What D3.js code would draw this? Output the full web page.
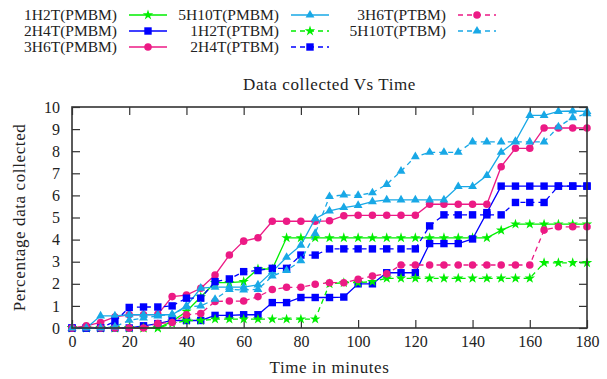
<!DOCTYPE html>
<html>
<head>
<meta charset="utf-8">
<script src="https://cdnjs.cloudflare.com/ajax/libs/d3/7.8.5/d3.min.js"></script>
<style>
  body { margin: 0; background: #fff; }
  svg { display: block; font-family: "Liberation Serif", "DejaVu Serif", serif; }
</style>
</head>
<body>
<div id="chart"></div>
<script>
// sample times (minutes)
const times = [0,5,10,15,20,25,30,35,40,45,50,55,60,65,70,75,80,85,90,95,100,105,110,115,120,125,130,135,140,145,150,155,160,165,170,175,180];

// series values, percentage data collected
const h1PMBM = [0,0,0,0,0,0,0,0.3,0.75,1.4,2.05,2.05,2.1,2.67,2.67,4.08,4.08,4.08,4.08,4.08,4.08,4.08,4.08,4.08,4.08,4.08,4.08,4.08,4.08,4.08,4.42,4.7,4.7,4.7,4.7,4.7,4.7];
const h2PMBM = [0,0,0,0,0,0.1,0.2,0.34,0.34,0.34,0.57,0.57,0.6,0.6,1.15,1.15,1.38,1.38,1.38,1.4,2.0,2.0,2.5,2.5,2.5,3.82,3.82,3.82,4.03,5.22,6.42,6.42,6.42,6.42,6.42,6.42,6.42];
const h3PMBM = [0,0.1,0.25,0.5,0.6,0.6,0.62,1.42,1.49,1.8,2.4,3.3,3.93,4.08,4.83,4.83,4.83,4.83,4.85,5.08,5.1,5.1,5.1,5.1,5.1,5.6,5.6,5.6,5.6,5.6,7.3,8.13,8.13,9.05,9.05,9.05,9.05];
const h5PMBM = [0,0,0.55,0.55,0.6,0.6,0.6,0.6,1.0,1.8,1.85,1.85,1.85,1.95,2.55,3.2,3.75,4.95,5.3,5.45,5.55,5.72,5.8,5.8,5.8,5.8,5.8,6.4,6.4,6.9,7.95,8.45,9.62,9.62,9.8,9.82,9.8];
const h1PTBM = [0,0,0,0,0,0,0,0.2,0.34,0.34,0.4,0.4,0.4,0.4,0.4,0.4,0.4,0.4,2.0,2.05,2.05,2.1,2.25,2.25,2.25,2.25,2.25,2.25,2.25,2.25,2.25,2.25,2.25,2.95,2.95,2.95,2.95];
const h2PTBM = [0,0,0,0.3,0.93,0.95,0.95,1.0,1.35,1.35,2.1,2.22,2.55,2.6,2.7,2.7,3.3,3.3,3.58,3.58,3.58,3.58,3.58,3.58,3.58,4.62,5.12,5.12,5.12,5.12,5.12,5.68,5.68,5.68,6.42,6.42,6.42];
const h3PTBM = [0,0.05,0,0,0,0,0.2,0.25,0.6,0.66,1.2,1.22,1.22,1.42,1.74,1.84,1.84,1.98,2.05,2.05,2.2,2.35,2.45,2.85,2.85,2.85,2.85,2.85,2.85,2.85,2.85,2.85,2.85,4.43,4.58,4.58,4.58];
const h5PTBM = [0,0,0,0.05,0.35,0.45,0.55,0.62,0.95,1.0,1.3,1.75,1.72,1.75,2.35,2.6,3.05,4.28,5.95,6.02,6.0,6.12,6.5,7.1,7.75,7.95,7.95,7.95,8.42,8.42,8.42,8.42,8.42,8.42,9.1,9.52,9.7];

const xTicks = [0,20,40,60,80,100,120,140,160,180];
const yTicks = [0,1,2,3,4,5,6,7,8,9,10];

const series = [
  { name: '1H2T(PMBM)', values: h1PMBM, color: '#00ee00', dashed: false, shape: d3.symbolStar, size: 34 },
  { name: '2H4T(PMBM)', values: h2PMBM, color: '#0000ff', dashed: false, shape: d3.symbolSquare, size: 55 },
  { name: '3H6T(PMBM)', values: h3PMBM, color: '#ec1a85', dashed: false, shape: d3.symbolCircle, size: 45 },
  { name: '5H10T(PMBM)', values: h5PMBM, color: '#18a8e6', dashed: false, shape: d3.symbolTriangle, size: 34 },
  { name: '1H2T(PTBM)', values: h1PTBM, color: '#00ee00', dashed: true, shape: d3.symbolStar, size: 34 },
  { name: '2H4T(PTBM)', values: h2PTBM, color: '#0000ff', dashed: true, shape: d3.symbolSquare, size: 55 },
  { name: '3H6T(PTBM)', values: h3PTBM, color: '#ec1a85', dashed: true, shape: d3.symbolCircle, size: 45 },
  { name: '5H10T(PTBM)', values: h5PTBM, color: '#18a8e6', dashed: true, shape: d3.symbolTriangle, size: 34 }
];

const W = 607, H = 379;
const margin = { left: 72, right: 20, top: 107, bottom: 51 };

const svg = d3.select('#chart').append('svg')
  .attr('width', W)
  .attr('height', H);

const x = d3.scaleLinear().domain([0, 180]).range([margin.left, W - margin.right]);
const y = d3.scaleLinear().domain([0, 10]).range([H - margin.bottom, margin.top]);

const axisColor = '#333';

// ticks inward on all four sides (gnuplot style)
const gx = svg.append('g')
  .attr('transform', `translate(0,${y(0)})`)
  .call(d3.axisBottom(x).tickValues(xTicks).tickSize(-8).tickPadding(8).tickSizeOuter(0));
const gxTop = svg.append('g')
  .attr('transform', `translate(0,${y(10)})`)
  .call(d3.axisTop(x).tickValues(xTicks).tickSize(-8).tickFormat('').tickSizeOuter(0));
const gy = svg.append('g')
  .attr('transform', `translate(${x(0)},0)`)
  .call(d3.axisLeft(y).tickValues(yTicks).tickSize(-8).tickPadding(12).tickSizeOuter(0));
const gyRight = svg.append('g')
  .attr('transform', `translate(${x(180)},0)`)
  .call(d3.axisRight(y).tickValues(yTicks).tickSize(-8).tickFormat('').tickSizeOuter(0));

[gx, gxTop, gy, gyRight].forEach(g => {
  g.select('.domain').remove();
  g.selectAll('line').attr('stroke', axisColor).attr('stroke-width', 1.2);
  g.selectAll('text')
    .style('font-family', '"Liberation Serif", serif')
    .style('font-size', '16px')
    .attr('fill', '#222');
});

// plot lines
const line = d3.line()
  .x((d, i) => x(times[i]))
  .y(d => y(d));

series.forEach(s => {
  svg.append('path')
    .datum(s.values)
    .attr('fill', 'none')
    .attr('stroke', s.color)
    .attr('stroke-width', 1.3)
    .attr('stroke-dasharray', s.dashed ? '5,4' : null)
    .attr('d', line);

  svg.append('g').selectAll('path')
    .data(s.values)
    .join('path')
    .attr('transform', (d, i) => `translate(${x(times[i])},${y(d)})`)
    .attr('d', d3.symbol().type(s.shape).size(s.size))
    .attr('fill', s.color);
});

// frame
svg.append('rect')
  .attr('x', x(0))
  .attr('y', y(10))
  .attr('width', x(180) - x(0))
  .attr('height', y(0) - y(10))
  .attr('fill', 'none')
  .attr('stroke', axisColor)
  .attr('stroke-width', 1.6);

// legend: 3 rows, filled column by column
const legend = svg.append('g');
const colEnds = [117, 279, 446];
const rowYs = [15, 31, 47];
series.forEach((s, i) => {
  const col = Math.floor(i / 3), row = i % 3;
  const xe = colEnds[col], yc = rowYs[row];
  legend.append('text')
    .attr('x', xe)
    .attr('y', yc)
    .attr('dy', '0.35em')
    .attr('text-anchor', 'end')
    .style('font-size', '15.5px')
    .attr('fill', '#222')
    .text(s.name);
  legend.append('line')
    .attr('x1', xe + 12)
    .attr('x2', xe + 50)
    .attr('y1', yc)
    .attr('y2', yc)
    .attr('stroke', s.color)
    .attr('stroke-width', 1.3)
    .attr('stroke-dasharray', s.dashed ? '5,4' : null);
  legend.append('path')
    .attr('transform', `translate(${xe + 31},${yc})`)
    .attr('d', d3.symbol().type(s.shape).size(s.size))
    .attr('fill', s.color);
});

// title and axis labels
svg.append('text')
  .attr('x', (x(0) + x(180)) / 2)
  .attr('y', 90)
  .attr('text-anchor', 'middle')
  .style('font-size', '17px')
  .style('letter-spacing', '0.6px')
  .attr('fill', '#222')
  .text('Data collected Vs Time');

svg.append('text')
  .attr('x', (x(0) + x(180)) / 2)
  .attr('y', 373)
  .attr('text-anchor', 'middle')
  .style('font-size', '17px')
  .style('letter-spacing', '0.6px')
  .attr('fill', '#222')
  .text('Time in minutes');

svg.append('text')
  .attr('transform', `translate(25,${(y(0) + y(10)) / 2}) rotate(-90)`)
  .attr('text-anchor', 'middle')
  .style('font-size', '17px')
  .style('letter-spacing', '0.6px')
  .attr('fill', '#222')
  .text('Percentage data collected');
</script>
</body>
</html>
